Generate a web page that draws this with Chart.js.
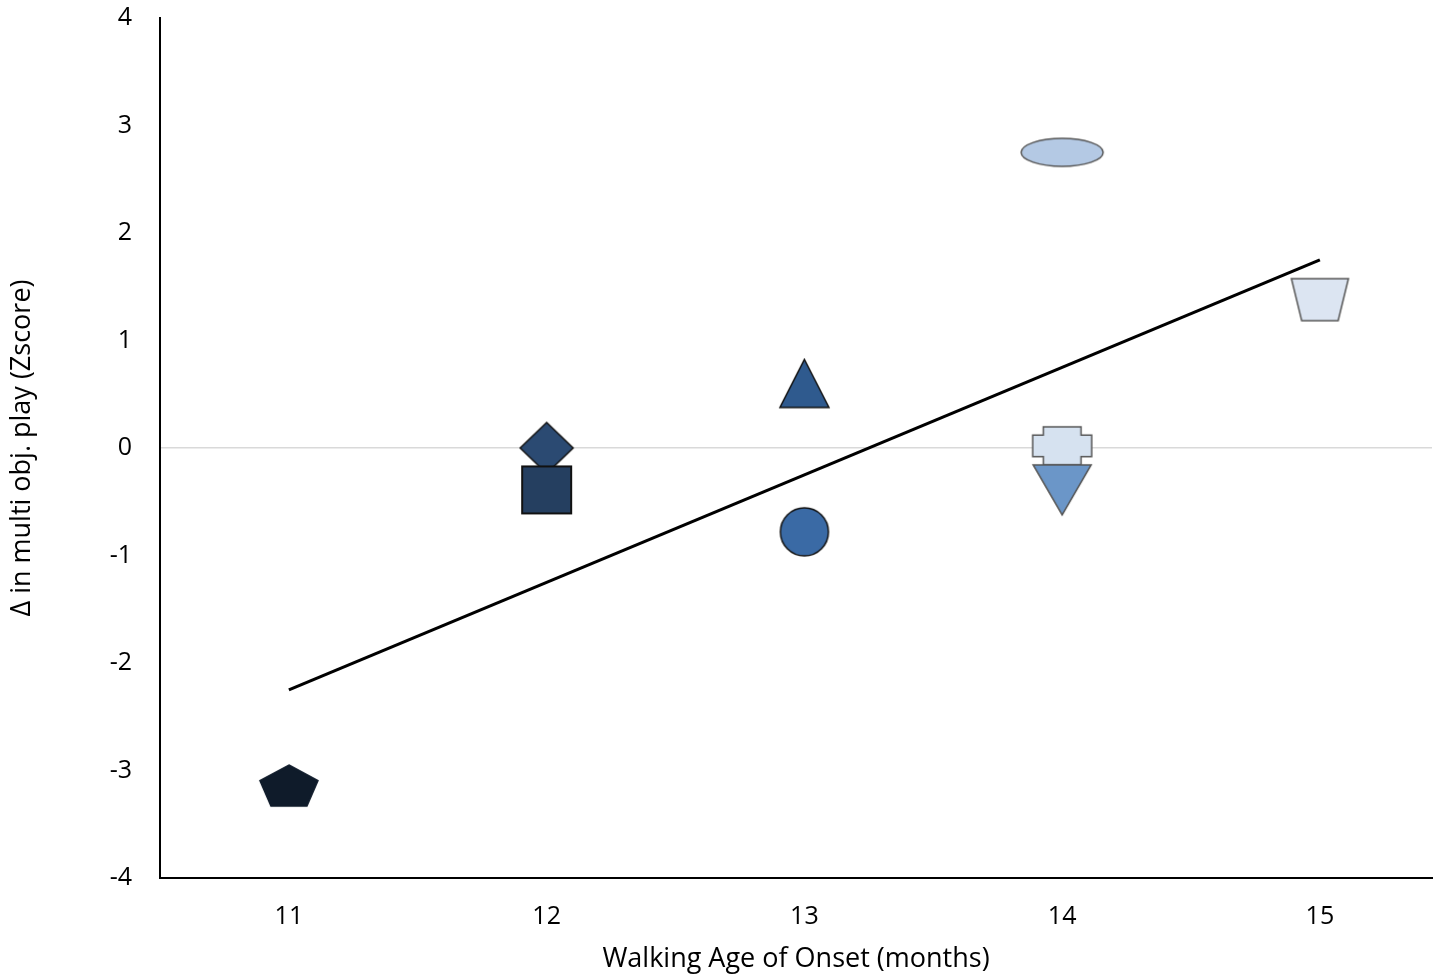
<!DOCTYPE html>
<html>
<head>
<meta charset="utf-8">
<script src="https://cdn.jsdelivr.net/npm/chart.js@4.4.1/dist/chart.umd.min.js"></script>
<style>
html,body{margin:0;padding:0;background:#fff;}
#wrap{width:1439px;height:976px;}
</style>
</head>
<body>
<div id="wrap"><canvas id="chart" width="1439" height="976"></canvas></div>
<script>
// one marker per child
let walkAge=[11,12,12,13,13,14,14,14,15];
let zScore=[-3.14,0.0,-0.39,0.6,-0.78,2.75,0.02,-0.39,1.38];
let shapes=["pentagon","diamond","square","triangle","circle","ellipse","cross","downTriangle","trapezoid"];
let fills=["#0f1b2a","#2b4a72","#253f60","#2f5a8e","#3a6aa5","#b4c9e4","#d6e2f0","#6b96c8","#dce5f2"];
let strokes=["#0f1b2a","#111111","#111111","#111111","#111111","#555555","#555555","#555555","#555555"];

// linear trend line
let trendX=[11,15];
let trendY=[-2.25,1.75];

let yTicks=[-4,-3,-2,-1,0,1,2,3,4];
let xTicks=[11,12,13,14,15];

function makeMarker(shape,fill,stroke){
 let sizes={pentagon:[58,41],diamond:[53,51],square:[49,47],triangle:[49,48],circle:[48,48],
  ellipse:[82,28],cross:[59,38],downTriangle:[58,50],trapezoid:[57,42]};
 let w=sizes[shape][0],h=sizes[shape][1];
 let c=document.createElement("canvas");
 c.width=w+4;c.height=h+4;
 let g=c.getContext("2d");
 g.translate(2,2);
 g.beginPath();
 let pts;
 if(shape=="pentagon") pts=[[0.5,0],[1,0.38],[0.81,1],[0.19,1],[0,0.38]];
 if(shape=="diamond") pts=[[0.5,0],[1,0.5],[0.5,1],[0,0.5]];
 if(shape=="square") pts=[[0,0],[1,0],[1,1],[0,1]];
 if(shape=="triangle") pts=[[0.5,0],[1,1],[0,1]];
 if(shape=="downTriangle") pts=[[0,0],[1,0],[0.5,1]];
 if(shape=="trapezoid") pts=[[0,0],[1,0],[0.82,1],[0.18,1]];
 if(shape=="cross") pts=[[0.18,0],[0.82,0],[0.82,0.22],[1,0.22],[1,0.78],[0.82,0.78],[0.82,1],[0.18,1],[0.18,0.78],[0,0.78],[0,0.22],[0.18,0.22]];
 if(pts){
  pts.forEach((p,i)=>{ if(i==0) g.moveTo(p[0]*w,p[1]*h); else g.lineTo(p[0]*w,p[1]*h); });
  g.closePath();
 } else {
  g.ellipse(w/2,h/2,w/2,h/2,0,0,Math.PI*2);
 }
 g.fillStyle=fill;
 g.fill();
 g.lineWidth=shape=="square"?2:1.5;
 g.strokeStyle=stroke;
 g.stroke();
 return c;
}

let markers=shapes.map((s,i)=>makeMarker(s,fills[i],strokes[i]));

let points=walkAge.map((x,i)=>({x:x,y:zScore[i]}));
let trend=trendX.map((x,i)=>({x:x,y:trendY[i]}));

Chart.defaults.font.family="'Open Sans', sans-serif";
Chart.defaults.color="#000";

new Chart(document.getElementById("chart"),{
 type:"scatter",
 data:{
  datasets:[
   {
    label:"Trend",
    type:"line",
    data:trend,
    borderColor:"#000",
    borderWidth:3.2,
    pointRadius:0,
    fill:false,
    order:2
   },
   {
    label:"Children",
    data:points,
    pointStyle:markers,
    pointRadius:25,
    order:1
   }
  ]
 },
 options:{
  responsive:false,
  animation:false,
  layout:{autoPadding:false,padding:{top:18,right:7,left:0,bottom:0}},
  plugins:{legend:{display:false},tooltip:{enabled:false}},
  scales:{
   x:{
    type:"linear",
    min:10.5,
    max:15.435,
    afterBuildTicks:s=>{s.ticks=xTicks.map(v=>({value:v}));},
    afterFit:s=>{s.height=98;s.paddingLeft=0;s.paddingRight=0;},
    grid:{display:false,drawTicks:false},
    border:{display:true,color:"#000",width:2},
    ticks:{font:{size:25},padding:24},
    title:{display:true,text:"Walking Age of Onset (months)",font:{size:27},padding:{top:2,bottom:0}}
   },
   y:{
    min:-4,
    max:4,
    afterBuildTicks:s=>{s.ticks=yTicks.map(v=>({value:v}));},
    afterFit:s=>{s.width=160;s.paddingTop=0;s.paddingBottom=0;},
    grid:{
     drawTicks:false,
     color:c=>c.tick && c.tick.value==0?"#d9d9d9":"rgba(0,0,0,0)",
     lineWidth:1.5
    },
    border:{display:true,color:"#000",width:2},
    ticks:{font:{size:25},padding:28},
    title:{display:true,text:"Δ in multi obj. play (Zscore)",font:{size:27},padding:{top:6,bottom:4}}
   }
  }
 }
});
</script>
</body>
</html>
